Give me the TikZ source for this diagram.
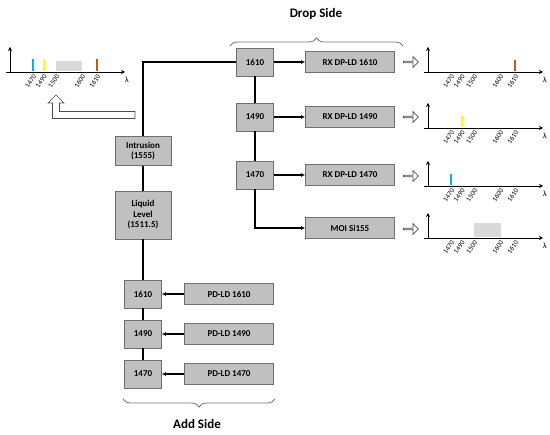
\documentclass[tikz,border=0pt]{standalone}
\usepackage{fontspec}
\setmainfont{Carlito}
\usepackage{tikz}
\usetikzlibrary{decorations.pathreplacing,shapes.arrows,arrows.meta}
\usepackage{xcolor}

\definecolor{boxgray}{HTML}{C0C0C0}
\definecolor{boxline}{HTML}{6E6E6E}
\definecolor{bandgray}{HTML}{D9D9D9}
\definecolor{bar1470}{HTML}{00B0F0}
\definecolor{bar1490}{HTML}{FFFF00}
\definecolor{bar1610}{HTML}{C55A11}

\tikzset{
  chbox/.style={draw=boxline, fill=boxgray, line width=0.8pt, font=\bfseries\fontsize{9}{10.5}\selectfont,
    minimum width=37pt, minimum height=28pt, inner sep=1pt, align=center},
  unitbox/.style={chbox, minimum width=89pt, minimum height=21pt},
  fiber/.style={line width=1.4pt},
  feed/.style={fiber, -{Latex[length=4pt,width=4pt]}},
  hollow/.style={draw=black!70, single arrow, minimum width=11pt, minimum height=15pt,
    single arrow head extend=2pt, inner sep=0pt, line width=0.7pt},
  sidebrace/.style={draw=black!55, line width=0.8pt, decorate, decoration={brace, amplitude=8pt}},
  ticklbl/.style={font=\fontsize{7}{8}\selectfont, rotate=55, anchor=east, inner sep=0.2pt},
}

\begin{document}
\begin{tikzpicture}[x=1pt,y=-1pt]
\useasboundingbox (0,0) rectangle (550,435);

% drop side
\node[chbox] (d1610) at (255,62) {1610};
\node[chbox] (d1490) at (255,117) {1490};
\node[chbox] (d1470) at (255,175) {1470};
\node[unitbox] (rx1610) at (350,62) {RX DP-LD 1610};
\node[unitbox] (rx1490) at (350,117) {RX DP-LD 1490};
\node[unitbox] (rx1470) at (350,175) {RX DP-LD 1470};
\node[unitbox] (moi) at (350,228) {MOI Si155};

% sensors and add side
\node[chbox, minimum width=56pt, minimum height=29pt] (intr) at (143,151) {Intrusion\\(1555)};
\node[chbox, minimum width=56pt, minimum height=48pt] (liq) at (143,215) {Liquid\\Level\\(1511.5)};
\node[chbox] (a1610) at (143,294) {1610};
\node[chbox] (a1490) at (143,334) {1490};
\node[chbox] (a1470) at (143,374) {1470};
\node[unitbox] (pd1610) at (229,294) {PD-LD 1610};
\node[unitbox] (pd1490) at (229,334) {PD-LD 1490};
\node[unitbox] (pd1470) at (229,374) {PD-LD 1470};

% fibre path
\coordinate (corner) at (143,62);
\draw[fiber] (intr.north) -- (corner) -- (d1610.west);
\draw[fiber] (intr) -- (liq);
\draw[fiber] (liq) -- (a1610);
\draw[fiber] (a1610) -- (a1490);
\draw[fiber] (a1490) -- (a1470);
\draw[fiber] (d1610) -- (d1490);
\draw[fiber] (d1490) -- (d1470);
\draw[feed] (d1470.south) |- (moi.west);
\draw[feed] (d1610) -- (rx1610);
\draw[feed] (d1490) -- (rx1490);
\draw[feed] (d1470) -- (rx1470);
\draw[feed] (pd1610) -- (a1610);
\draw[feed] (pd1490) -- (a1490);
\draw[feed] (pd1470) -- (a1470);

% braces
\coordinate (dropL) at (230,46);
\coordinate (dropR) at (403,46);
\draw[sidebrace] (dropL) -- (dropR);
\node[font=\bfseries\fontsize{13}{15}\selectfont] (droplbl) at (316,14) {Drop Side};
\coordinate (addL) at (275,399);
\coordinate (addR) at (123,399);
\draw[sidebrace] (addL) -- (addR);
\node[font=\bfseries\fontsize{13}{15}\selectfont] (addlbl) at (197,424) {Add Side};

% hollow arrows to the spectra
\foreach \y/\nm in {62/h1, 117/h2, 176/h3, 229/h4}
  \node[hollow] (\nm) at (410.5,\y) {};
\draw[draw=black!70, line width=0.7pt] (56,95) -- (64,103) -- (59.5,103) -- (59.5,111.5) -- (135,111.5)
  -- (135,118.5) -- (52.5,118.5) -- (52.5,103) -- (48,103) -- cycle;

% spectra
\foreach \ox/\oy in {10/72, 428/72, 428/128, 428/186, 428/238} {
  \draw[line width=0.9pt, -{Stealth[length=4pt,width=4pt]}] (\ox-4,\oy) -- (\ox+115,\oy);
  \draw[line width=0.9pt, -{Stealth[length=4pt,width=4pt]}] (\ox,\oy) -- (\ox,\oy-25);
  \node[font=\fontsize{8}{9}\selectfont] at (\ox+117,\oy+8) {λ};
  \foreach \dx/\wl in {23/1470, 33.5/1490, 46/1500, 72/1600, 87/1610}
    \node[ticklbl] at (\ox+\dx+2,\oy+3) {\wl};
}
\fill[bandgray] (56,61) rectangle (82,71.5);
\draw[bar1470, line width=2pt] (33,71.5) -- (33,59);
\draw[bar1490, line width=2pt] (43.5,71.5) -- (43.5,59);
\draw[bar1610, line width=2pt] (97,71.5) -- (97,59);
\draw[bar1610, line width=2pt] (515,71.5) -- (515,60);
\draw[bar1490, line width=2pt] (461.5,127.5) -- (461.5,116);
\draw[bar1470, line width=2pt] (451,185.5) -- (451,174);
\fill[bandgray] (474,223) rectangle (501,237.5);
\end{tikzpicture}
\end{document}
